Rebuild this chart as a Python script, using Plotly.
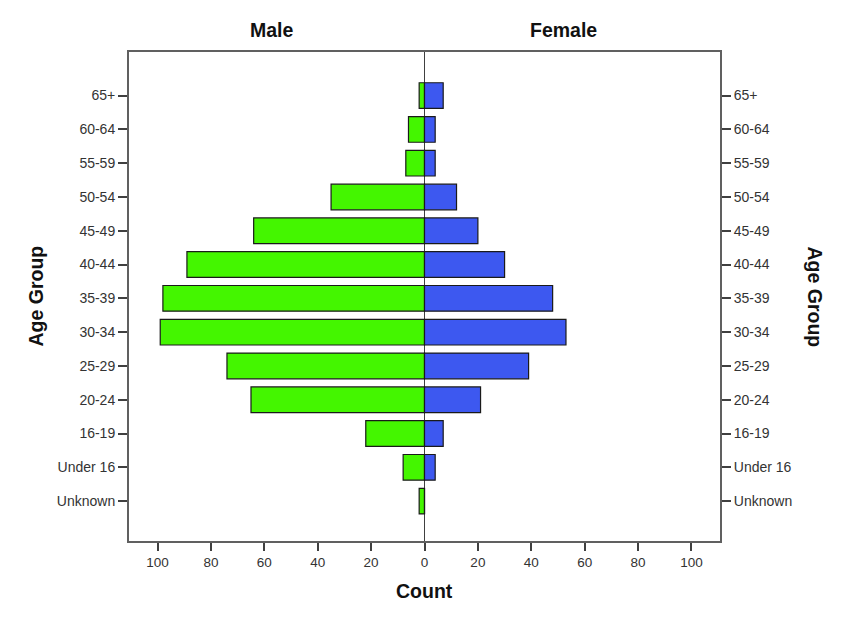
import plotly.graph_objects as go

age_groups = ["Unknown", "Under 16", "16-19", "20-24", "25-29", "30-34", "35-39",
              "40-44", "45-49", "50-54", "55-59", "60-64", "65+"]
male = [2, 8, 22, 65, 74, 99, 98, 89, 64, 35, 7, 6, 2]
female = [0, 4, 7, 21, 39, 53, 48, 30, 20, 12, 4, 4, 7]
x_ticks = [-100, -80, -60, -40, -20, 0, 20, 40, 60, 80, 100]
x_tick_labels = [str(abs(v)) for v in x_ticks]

ypos = list(range(len(age_groups)))
font_family = "Liberation Sans, Arial, sans-serif"
title_font = dict(family=font_family, size=19.5, color="#111")

fig = go.Figure()
fig.add_trace(go.Bar(
    y=ypos, x=[-v for v in male], orientation="h", width=0.76,
    marker=dict(color="#44f600", line=dict(color="#1a1a1a", width=1.2)),
    name="Male", showlegend=False, hoverinfo="skip"))
fig.add_trace(go.Bar(
    y=ypos, x=female, orientation="h", width=0.76,
    marker=dict(color="#3d58f0", line=dict(color="#1a1a1a", width=1.2)),
    name="Female", showlegend=False, hoverinfo="skip"))
# helper trace so the right-hand axis is drawn
fig.add_trace(go.Scatter(y=ypos, x=[0] * len(ypos), yaxis="y2", mode="markers",
                         marker=dict(opacity=0), showlegend=False, hoverinfo="skip"))

yr = [-1.18, 13.29]
axis_common = dict(showline=True, linecolor="#606060", linewidth=2,
                   ticks="outside", ticklen=9, tickwidth=2, tickcolor="#404040",
                   showgrid=False, zeroline=False,
                   tickfont=dict(family=font_family, size=14, color="#333333"))

fig.update_layout(
    width=850, height=628,
    margin=dict(l=129, r=130, t=52, b=87),
    paper_bgcolor="white", plot_bgcolor="white",
    barmode="overlay",
    xaxis=dict(range=[-110.7, 110.7], tickvals=x_ticks, ticktext=x_tick_labels,
               showline=True, linecolor="#606060", linewidth=2, mirror=True,
               ticks="outside", ticklen=8, tickwidth=2, tickcolor="#404040",
               showgrid=False, zeroline=True, zerolinecolor="#404040", zerolinewidth=1.2,
               tickfont=dict(family=font_family, size=13.5, color="#333333")),
    yaxis=dict(range=yr, tickvals=ypos, ticktext=age_groups, mirror=True, **axis_common),
    yaxis2=dict(range=yr, tickvals=ypos, ticktext=age_groups, overlaying="y", side="right",
                **axis_common),
    annotations=[
        dict(text="<b>Male</b>", x=-57, y=1, xref="x", yref="paper", yanchor="bottom",
             yshift=9, showarrow=False, font=title_font),
        dict(text="<b>Female</b>", x=52, y=1, xref="x", yref="paper", yanchor="bottom",
             yshift=9, showarrow=False, font=title_font),
        dict(text="<b>Count</b>", x=0, y=0, xref="x", yref="paper", yanchor="top",
             yshift=-37, showarrow=False, font=title_font),
        dict(text="<b>Age Group</b>", x=(35 - 129) / 591, y=0.5, xref="paper", xanchor="center",
             yref="paper", showarrow=False, textangle=-90, font=title_font),
        dict(text="<b>Age Group</b>", x=(815 - 129) / 591, y=0.5, xref="paper", xanchor="center",
             yref="paper", showarrow=False, textangle=90, font=title_font),
    ],
)

fig.write_html("out.html")
